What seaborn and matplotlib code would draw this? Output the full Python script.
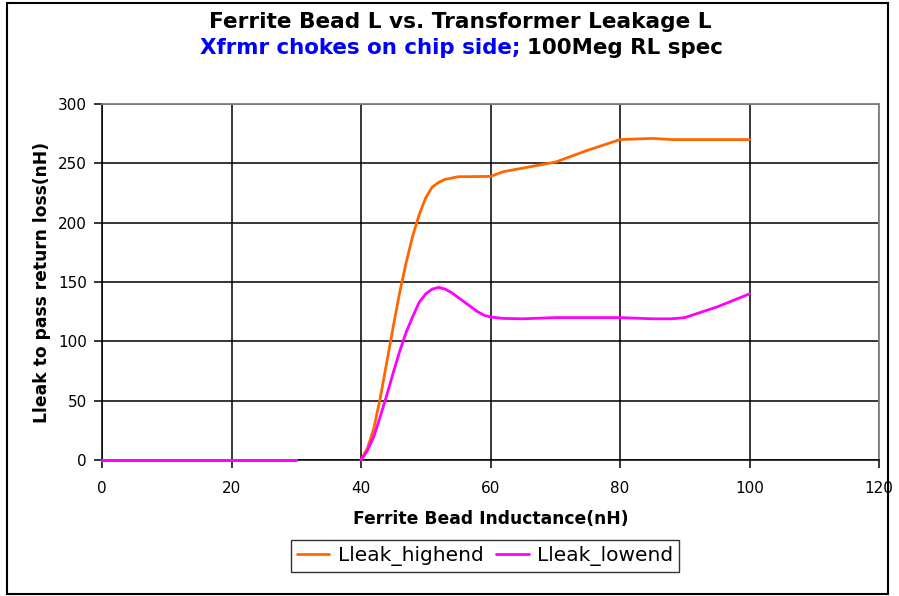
import seaborn as sns
import matplotlib.pyplot as plt
import matplotlib.patches as patches
import pandas as pd

# Ferrite bead inductance (nH) and leakage inductance needed to pass RL (nH)
bead_low = [0, 5, 10, 15, 20, 25, 30]
zero_low = [0, 0, 0, 0, 0, 0, 0]

bead_high = [40, 41, 42, 43, 44, 45, 46, 47, 48, 49, 50, 51, 52, 53, 55, 60,
             62, 65, 70, 75, 80, 85, 88, 90, 95, 100]
lleak_highend = [0, 10, 27, 53, 83, 113, 142, 167, 189, 207, 221, 230, 234, 236.5,
                 238.7, 239, 243, 246, 251, 261, 270, 271, 270, 270, 270, 270]

bead_lowend = [40, 41, 42, 43, 44, 45, 46, 47, 48, 49, 50, 51, 52, 53, 54, 55, 56,
               57, 58, 59, 60, 62, 65, 70, 80, 85, 88, 90, 95, 100]
lleak_lowend = [0, 8, 20, 37, 55, 74, 92, 108, 121, 133, 140, 144, 145.5, 144, 141,
                137, 133, 129, 125, 122, 120.5, 119.3, 119, 120, 120, 119, 119, 120,
                129, 140]

rows = []
for x, y in zip(bead_low, zero_low):
    rows.append(("Lleak_highend", 0, x, y))
for x, y in zip(bead_high, lleak_highend):
    rows.append(("Lleak_highend", 1, x, y))
for x, y in zip(bead_low, zero_low):
    rows.append(("Lleak_lowend", 0, x, y))
for x, y in zip(bead_lowend, lleak_lowend):
    rows.append(("Lleak_lowend", 1, x, y))
df = pd.DataFrame(rows, columns=["series", "seg", "bead", "lleak"])

sns.set_style("white")
plt.rcParams['font.family'] = ['DejaVu Sans']
plt.rcParams['text.color'] = 'black'
plt.rcParams['axes.labelcolor'] = 'black'
plt.rcParams['xtick.color'] = 'black'
plt.rcParams['ytick.color'] = 'black'

fig = plt.figure(figsize=(8.99, 5.96), dpi=100)
ax = fig.add_axes([102 / 899, 1 - 460 / 596, 777 / 899, 356 / 596])

palette = {"Lleak_highend": "#FF6600", "Lleak_lowend": "#FF00FF"}
sns.lineplot(data=df, x="bead", y="lleak", hue="series", units="seg",
             estimator=None, palette=palette, linewidth=2.0, ax=ax, legend=False,
             sort=False)
for line in ax.lines:
    line.set_clip_on(False)
    line.set_zorder(3)

ax.set_xlim(0, 120)
ax.set_ylim(0, 300)
ax.set_xticks(range(0, 121, 20))
ax.set_yticks(range(0, 301, 50))
ax.grid(True, color="black", linewidth=1.1)
ax.set_axisbelow(True)
for side in ["top", "right"]:
    ax.spines[side].set_color("#808080")
    ax.spines[side].set_linewidth(1.3)
for side in ["left", "bottom"]:
    ax.spines[side].set_color("black")
    ax.spines[side].set_linewidth(1.1)
ax.tick_params(axis="both", direction="out", length=6, width=1.1, color="black",
               labelsize=11, bottom=True, left=True)
ax.tick_params(axis="x", pad=9)
ax.tick_params(axis="y", pad=5)
ax.set_xlabel("Ferrite Bead Inductance(nH)", fontsize=12.3, fontweight="bold", labelpad=10)
ax.set_ylabel("Lleak to pass return loss(nH)", fontsize=12.3, fontweight="bold", labelpad=5)

# titles
fig.text(460 / 899, 1 - 22 / 596, "Ferrite Bead L vs. Transformer Leakage L",
         ha="center", va="center", fontsize=15.6, fontweight="bold")
fig.text(520 / 899, 1 - 48 / 596, "Xfrmr chokes on chip side;", ha="right",
         va="center", fontsize=15.4, fontweight="bold", color="#0000FF")
fig.text(527 / 899, 1 - 48 / 596, "100Meg RL spec", ha="left",
         va="center", fontsize=15.4, fontweight="bold", color="black")

# legend
handles = [plt.Line2D([], [], color=palette[k], linewidth=2.0) for k in palette]
leg = fig.legend(handles, list(palette), loc="center", ncol=2,
                 bbox_to_anchor=(485 / 899, 1 - 556 / 596), fontsize=14.5,
                 frameon=True, fancybox=False, edgecolor="black",
                 handlelength=1.6, columnspacing=0.65, handletextpad=0.4,
                 borderpad=0.3, borderaxespad=0)
leg.get_frame().set_linewidth(1.0)

# outer chart border
fig.patches.append(patches.Rectangle((7 / 899, 1 - 594 / 596), 881 / 899, 591 / 596,
                                     transform=fig.transFigure, fill=False,
                                     edgecolor="black", linewidth=1.5))

fig.savefig("out.png", dpi=100)
